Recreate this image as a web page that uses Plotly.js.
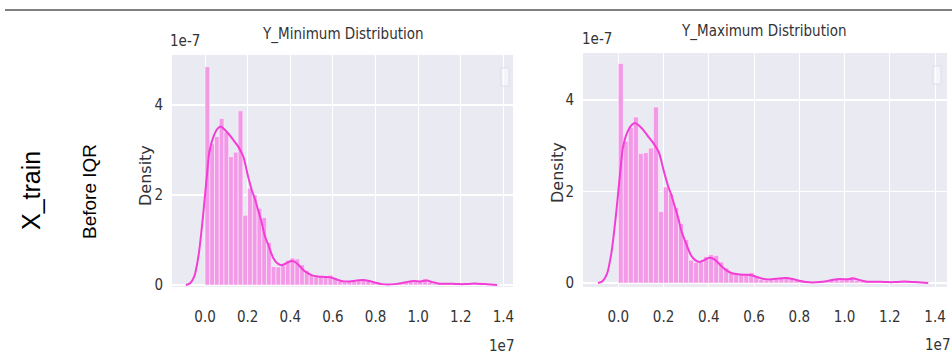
<!DOCTYPE html>
<html>
<head>
<meta charset="utf-8">
<script src="https://cdn.plot.ly/plotly-3.0.1.min.js"></script>
<style>html,body{margin:0;padding:0;background:#fff;}#chart{width:952px;height:364px;}</style>
</head>
<body>
<div id="chart"></div>
<script>
// Values are in display units: x in 1e7, density in 1e-7
const binWidth = 0.0222;
const minHist = [4.85,3.15,3.3,3.7,3.4,2.85,2.95,3.87,1.55,2.15,2.0,1.7,1.5,0.95,0.41,0.40,0.43,0.55,0.6,0.58,0.45,0.32,0.22,0.2,0.2,0.2,0.22,0.15,0.08,0.06,0.07,0.09,0.11,0.12,0.1,0.05,0.02,0.01,0.0,0.01,0.01,0.02,0.08,0.1,0.07,0.08,0.14,0.06,0.03,0.03,0.04,0.03,0.02,0.03,0.04,0.02,0.02,0.03,0.04,0.03,0.02,0.01];
const maxHist = [4.8,3.1,3.4,3.63,2.83,2.85,2.95,3.85,1.56,2.1,1.95,1.65,1.3,0.95,0.5,0.45,0.45,0.58,0.62,0.6,0.46,0.33,0.22,0.2,0.2,0.21,0.23,0.15,0.08,0.06,0.07,0.09,0.11,0.12,0.1,0.05,0.02,0.01,0.0,0.01,0.01,0.02,0.08,0.1,0.07,0.08,0.14,0.06,0.03,0.03,0.04,0.03,0.02,0.03,0.04,0.02,0.02,0.03,0.04,0.03,0.02,0.01];
const kdeX = [-0.09,-0.07,-0.05,-0.03,-0.01,0.0,0.01,0.02,0.04,0.06,0.075,0.09,0.11,0.13,0.155,0.18,0.2,0.22,0.235,0.25,0.265,0.28,0.3,0.32,0.34,0.36,0.38,0.4,0.42,0.44,0.46,0.48,0.5,0.53,0.56,0.59,0.62,0.65,0.68,0.71,0.74,0.77,0.8,0.83,0.86,0.89,0.92,0.95,0.98,1.01,1.04,1.07,1.1,1.13,1.16,1.19,1.22,1.25,1.28,1.31,1.34,1.37];
const minKde = [0,0.04,0.2,0.67,1.5,2.0,2.5,2.95,3.3,3.48,3.52,3.46,3.36,3.24,3.08,2.85,2.45,2.1,1.9,1.65,1.4,1.1,0.85,0.6,0.48,0.44,0.48,0.53,0.52,0.44,0.34,0.27,0.22,0.19,0.18,0.17,0.12,0.08,0.08,0.1,0.11,0.09,0.05,0.02,0.01,0.02,0.04,0.07,0.09,0.08,0.1,0.06,0.03,0.03,0.03,0.02,0.02,0.03,0.03,0.02,0.01,0.0];
const maxKde = [0,0.04,0.2,0.67,1.5,2.0,2.5,2.95,3.3,3.46,3.5,3.45,3.35,3.22,3.06,2.85,2.47,2.12,1.92,1.67,1.42,1.12,0.86,0.62,0.5,0.46,0.5,0.55,0.53,0.45,0.35,0.27,0.22,0.19,0.18,0.17,0.12,0.08,0.08,0.1,0.11,0.09,0.05,0.02,0.01,0.02,0.04,0.07,0.09,0.08,0.1,0.06,0.03,0.03,0.03,0.02,0.02,0.03,0.03,0.02,0.01,0.0];
const xTicks = [0.0,0.2,0.4,0.6,0.8,1.0,1.2,1.4];
const xTickText = ['0.0','0.2','0.4','0.6','0.8','1.0','1.2','1.4'];
const yTicks = [0,2,4];
const titles = ['Y_Minimum Distribution','Y_Maximum Distribution'];

const W = 952, H = 364;
const px = x => x / W;
const py = y => (H - y) / H;
const centers = minHist.map((_, i) => (i + 0.5) * binWidth);

const barColor = 'rgba(242,150,230,0.95)';
const lineColor = '#F23DD6';
const font = 'DejaVu Sans Condensed, Liberation Sans Narrow, DejaVu Sans, sans-serif';
const fontReg = 'DejaVu Sans, sans-serif';

function bars(vals, xa, ya) {
  return {type:'bar', x:centers, y:vals, width:binWidth, xaxis:xa, yaxis:ya,
    marker:{color:barColor, line:{color:'rgba(255,255,255,0.8)', width:0.6}},
    hoverinfo:'skip', showlegend:false};
}
function kde(vals, xa, ya) {
  return {type:'scatter', mode:'lines', x:kdeX, y:vals, xaxis:xa, yaxis:ya,
    line:{color:lineColor, width:2, shape:'spline', smoothing:0.6}, hoverinfo:'skip', showlegend:false};
}

const data = [bars(minHist,'x','y'), kde(minKde,'x','y'), bars(maxHist,'x2','y2'), kde(maxKde,'x2','y2')];

const xCommon = {tickvals:xTicks, ticktext:xTickText, showgrid:true, gridcolor:'#ffffff', gridwidth:1,
  zeroline:false, showline:false, ticks:'', ticklabelstandoff:19,
  tickfont:{family:font, size:15, color:'#333333'}};
const yCommon = {tickvals:yTicks, showgrid:true, gridcolor:'#ffffff', gridwidth:1.5,
  zeroline:false, showline:false, ticks:'', ticklabelstandoff:8,
  tickfont:{family:font, size:15, color:'#333333'}};

const ann = (text, x, y, size, fam, color, angle) => ({text:text, xref:'paper', yref:'paper', x:px(x), y:py(y),
  showarrow:false, xanchor:'center', yanchor:'middle', textangle:angle || 0, font:{family:fam, size:size, color:color}});

const layout = {
  width:W, height:H, margin:{l:0,r:0,t:0,b:0}, paper_bgcolor:'#ffffff', plot_bgcolor:'#EAEAF2',
  bargap:0, showlegend:false,
  xaxis: Object.assign({}, xCommon, {domain:[px(172), px(513)], range:[-0.155,1.445], anchor:'y'}),
  yaxis: Object.assign({}, yCommon, {domain:[py(287), py(55)], range:[-0.044,5.11], anchor:'x'}),
  xaxis2: Object.assign({}, xCommon, {domain:[px(583), px(947)], range:[-0.156,1.453], anchor:'y2'}),
  yaxis2: Object.assign({}, yCommon, {domain:[py(287), py(53)], range:[-0.087,5.03], anchor:'x2'}),
  shapes:[
    {type:'line', xref:'paper', yref:'paper', x0:px(5), x1:1, y0:py(10), y1:py(10), line:{color:'#000000', width:1}},
    {type:'rect', xref:'paper', yref:'paper', x0:px(501), x1:px(509), y0:py(86), y1:py(68), line:{color:'#dcdce4', width:1}, fillcolor:'rgba(255,255,255,0.5)'},
    {type:'rect', xref:'paper', yref:'paper', x0:px(933), x1:px(941), y0:py(84), y1:py(66), line:{color:'#dcdce4', width:1}, fillcolor:'rgba(255,255,255,0.5)'}
  ],
  annotations:[
    ann(titles[0], 343, 34, 15, font, '#333333'),
    ann(titles[1], 764, 31, 15, font, '#333333'),
    ann('1e-7', 185, 41, 15, font, '#333333'),
    ann('1e-7', 597, 39, 15, font, '#333333'),
    ann('1e7', 501, 346, 15, font, '#333333'),
    ann('1e7', 937, 345, 15, font, '#333333'),
    ann('Density', 146, 176, 16, fontReg, '#333333', -90),
    ann('Density', 557, 173, 16, fontReg, '#333333', -90),
    ann('X_train', 31, 191, 25, 'Liberation Sans, Arial, sans-serif', '#000000', -90),
    ann('Before IQR', 89, 192, 19, 'Liberation Sans, Arial, sans-serif', '#000000', -90)
  ]
};

Plotly.newPlot('chart', data, layout, {displayModeBar:false, staticPlot:true});
</script>
</body>
</html>
